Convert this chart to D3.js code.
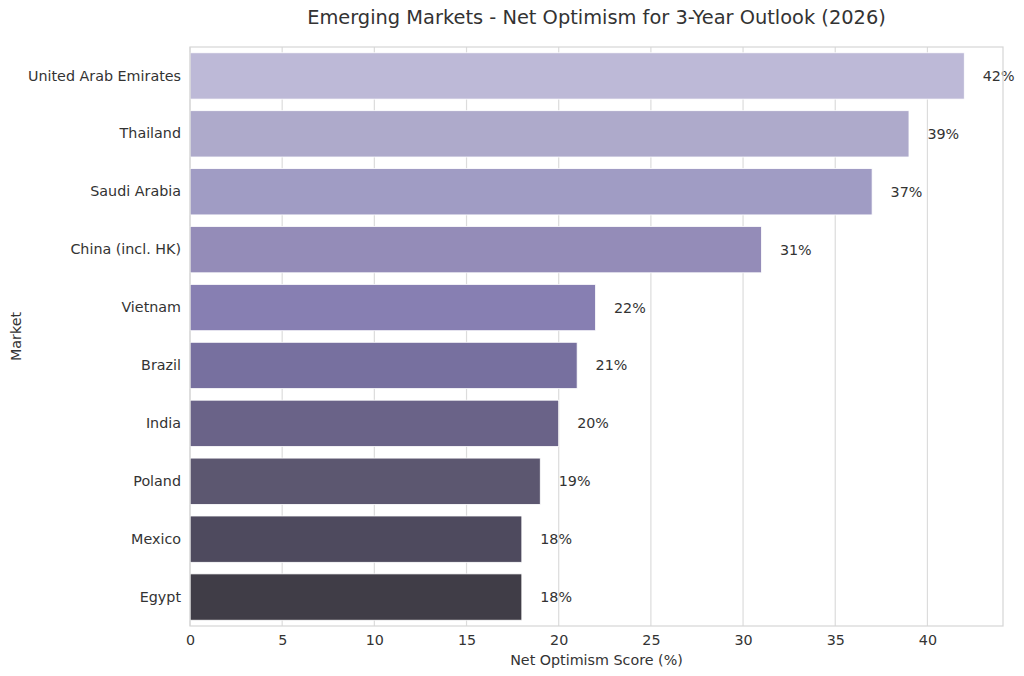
<!DOCTYPE html>
<html>
<head>
<meta charset="utf-8">
<script src="https://cdn.jsdelivr.net/npm/d3@7"></script>
<style>
  body { margin: 0; background: #fff; }
  text { font-family: "DejaVu Sans", sans-serif; fill: #333; }
</style>
</head>
<body>
<div id="chart_div"></div>
<script>
// chart data
const markets = ["United Arab Emirates", "Thailand", "Saudi Arabia", "China (incl. HK)", "Vietnam",
  "Brazil", "India", "Poland", "Mexico", "Egypt"]
const scores = [42, 39, 37, 31, 22, 21, 20, 19, 18, 18]
const xTicks = [0, 5, 10, 15, 20, 25, 30, 35, 40]

// palette, light to dark
const barColors = ["#bdb9d7", "#aeaacb", "#a09cc4", "#948cb8", "#877fb2",
  "#77709f", "#6a6388", "#5c5770", "#4e4a5e", "#403d47"]

const W = 1024, H = 676
const fs = 14.3
const margin = {top: 47, right: 21, bottom: 50, left: 190},
  width = W - margin.left - margin.right,
  height = H - margin.top - margin.bottom

const svg = d3.select("#chart_div")
  .append("svg")
  .attr("width", W)
  .attr("height", H)

const g = svg.append("g")
  .attr("transform", `translate(${margin.left},${margin.top})`)

const x = d3.scaleLinear()
  .domain([0, d3.max(scores) * 1.05])
  .range([0, width])

const y = d3.scaleBand()
  .domain(markets)
  .range([0, height])
  .paddingInner(0.2)
  .paddingOuter(0.1)

const color = d3.scaleOrdinal().domain(markets).range(barColors)

// grid lines
g.selectAll(".grid")
  .data(xTicks)
  .join("line")
  .attr("class", "grid")
  .attr("x1", d => x(d)).attr("x2", d => x(d))
  .attr("y1", 0).attr("y2", height)
  .attr("stroke", "#dcdcdc")
  .attr("stroke-width", 1.2)

// bars
const data = markets.map((m, i) => ({market: m, score: scores[i]}))
g.selectAll(".bar")
  .data(data)
  .join("rect")
  .attr("class", "bar")
  .attr("x", x(0))
  .attr("y", d => y(d.market))
  .attr("width", d => x(d.score) - x(0))
  .attr("height", y.bandwidth())
  .attr("fill", d => color(d.market))
  .attr("stroke", "#fff")
  .attr("stroke-width", 0.8)

// value labels
g.selectAll(".val")
  .data(data)
  .join("text")
  .attr("class", "val")
  .attr("x", d => x(d.score + 1))
  .attr("y", d => y(d.market) + y.bandwidth() / 2)
  .attr("dy", "0.35em")
  .attr("font-size", fs)
  .text(d => `${d.score}%`)

// frame
g.append("rect")
  .attr("width", width).attr("height", height)
  .attr("fill", "none")
  .attr("stroke", "#d6d6d6")
  .attr("stroke-width", 1.2)

// x axis
const xAxis = g.append("g")
  .attr("transform", `translate(0,${height})`)
  .call(d3.axisBottom(x).tickValues(xTicks).tickSize(0).tickPadding(9))
xAxis.select(".domain").remove()
xAxis.selectAll("text").attr("font-size", fs).style("font-family", "DejaVu Sans").attr("fill", "#333")

// y axis
const yAxis = g.append("g")
  .call(d3.axisLeft(y).tickSize(0).tickPadding(9))
yAxis.select(".domain").remove()
yAxis.selectAll("text").attr("font-size", fs).style("font-family", "DejaVu Sans").attr("fill", "#333")

// title and axis labels
svg.append("text")
  .attr("x", margin.left + width / 2)
  .attr("y", 24)
  .attr("text-anchor", "middle")
  .attr("font-size", 19.4)
  .text("Emerging Markets - Net Optimism for 3-Year Outlook (2026)")

svg.append("text")
  .attr("x", margin.left + width / 2)
  .attr("y", 665)
  .attr("text-anchor", "middle")
  .attr("font-size", fs)
  .text("Net Optimism Score (%)")

svg.append("text")
  .attr("transform", `translate(21,${margin.top + height / 2}) rotate(-90)`)
  .attr("text-anchor", "middle")
  .attr("font-size", fs)
  .text("Market")
</script>
</body>
</html>
